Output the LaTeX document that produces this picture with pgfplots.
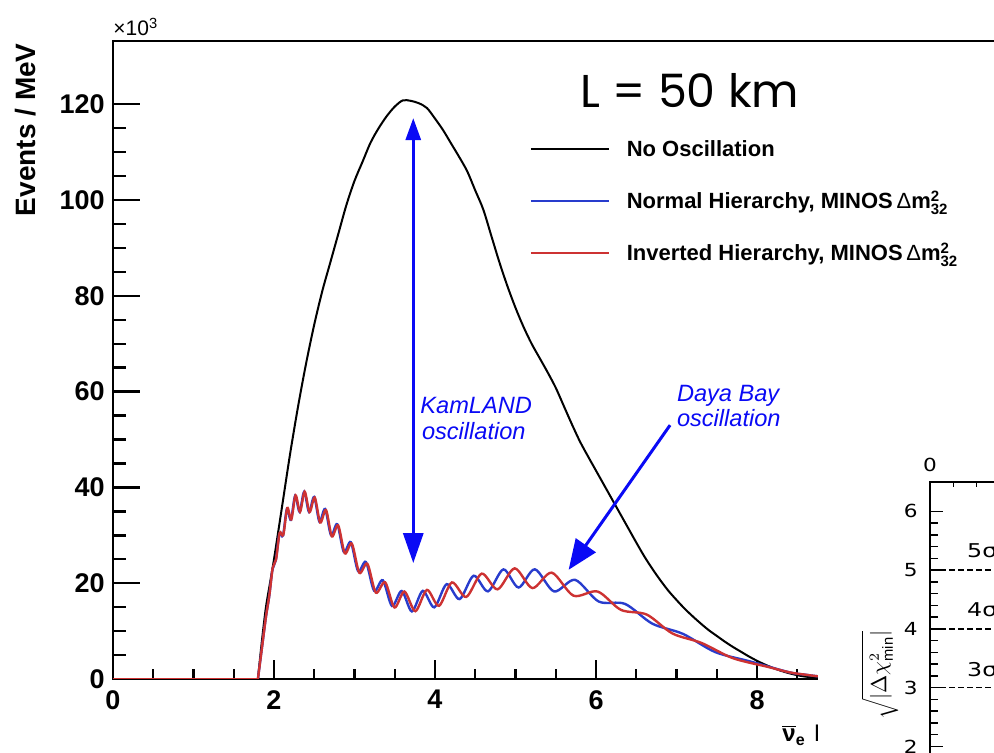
\documentclass[border=0pt]{standalone}
\usepackage{fontspec}
\setmainfont{Liberation Sans}
\newfontfamily\comicfont{Poppins}
\newfontfamily\djvfont{DejaVu Sans}
\usepackage{pgfplots}
\usepackage{pgfplotstable}
\pgfplotsset{compat=1.18}
\usetikzlibrary{arrows.meta}
\definecolor{nhblue}{RGB}{40,60,205}
\definecolor{ihred}{RGB}{205,50,50}
\definecolor{annblue}{RGB}{10,10,245}

\pgfplotstableread{
E y
1.80 0
1.85 8
1.90 15
1.95 20
2.00 25
2.10 36
2.20 47
2.30 57
2.40 66
2.50 74
2.60 81
2.70 87
2.80 93
2.90 99
3.00 104
3.10 108
3.20 112
3.30 115
3.40 117.5
3.50 119.5
3.60 120.8
3.70 120.7
3.80 120.2
3.90 119.2
4.00 117
4.10 114.6
4.20 111.8
4.30 109
4.40 106
4.50 102
4.60 98
4.70 92.5
4.80 87
4.90 82
5.00 77.5
5.10 73.5
5.20 70
5.30 67
5.40 64
5.50 60.8
5.60 57
5.70 53.2
5.80 49.6
5.90 46.5
6.00 43.5
6.10 40.5
6.20 37.5
6.30 34.5
6.40 31.5
6.50 28.5
6.60 25.6
6.70 23
6.80 20.6
6.90 18.4
7.00 16.5
7.10 14.7
7.20 13.1
7.30 11.6
7.40 10.2
7.50 9
7.60 7.8
7.70 6.7
7.80 5.7
7.90 4.7
8.00 3.8
8.10 3.0
8.20 2.3
8.30 1.7
8.40 1.2
8.50 0.8
8.60 0.5
8.80 0.2
9.20 0.05
}\noosc

\pgfplotstableread{
E y
1.80 0
1.85 6.5
1.90 13
1.940 17.2
1.981 22.9
2.023 24.84
2.067 30.3
2.112 29.95
2.160 35.49
2.210 33.22
2.263 38.28
2.318 34.91
2.375 39.1
2.435 34.89
2.499 38.0
2.565 32.83
2.635 35.5
2.709 30.0
2.786 32.31
2.868 26.5
2.954 28.56
3.045 22.51
3.142 24.42
3.244 18.41
3.352 20.62
3.466 15.24
3.587 18.38
3.713 14.11
3.849 18.4
3.991 14.96
4.145 19.8
4.306 16.68
4.480 21.56
4.658 18.3
4.850 22.88
5.038 19.1
5.240 22.9
5.479 18.28
5.740 20.7
6.035 16.16
6.360 15.68
6.700 11.55
7.080 9.42
7.480 5.63
7.920 3.64
8.40 1.4
8.60 0.9
8.80 0.5
9.20 0.1
}\normalh

\pgfplotstableread{
E y
1.80 0
1.85 6.5
1.90 13
1.944 17.7
1.984 23.2
2.026 25.0
2.070 30.5
2.116 30.1
2.165 35.7
2.215 33.3
2.268 38.35
2.323 34.9
2.381 39.1
2.442 34.85
2.506 37.9
2.574 32.67
2.646 35.28
2.719 29.78
2.797 32.07
2.880 26.24
2.967 28.26
3.060 22.18
3.160 24.04
3.265 18.03
3.380 20.2
3.497 14.93
3.620 18.26
3.756 14.16
3.900 18.6
4.049 15.27
4.210 20.16
4.388 17.13
4.580 22.0
4.777 18.72
4.990 23.1
5.210 18.98
5.450 22.2
5.720 17.4
6.020 18.26
6.310 14.43
6.630 13.45
6.950 9.5
7.310 7.53
7.700 4.35
8.130 2.55
8.40 1.4
8.60 0.9
8.80 0.5
9.20 0.1
}\invertedh

\begin{document}
\begin{tikzpicture}
\useasboundingbox (0,0) rectangle (497pt,376.5pt);
\clip (0,0) rectangle (497pt,376.5pt);
\begin{axis}[
  at={(56.5pt,37pt)}, anchor=south west,
  scale only axis, width=483pt, height=319pt,
  xmin=0, xmax=12, ymin=0, ymax=133.2,
  axis line style={line width=1.3pt},
  xtick={0,2,...,12}, ytick={0,20,...,120},
  minor x tick num=3, minor y tick num=3,
  xtick pos=bottom, ytick pos=left,
  tick align=inside,
  tick style={line width=1.2pt, black},
  xtick style={/pgfplots/major tick length=9.5pt,/pgfplots/minor tick length=5pt},
  ytick style={/pgfplots/major tick length=13.5pt,/pgfplots/minor tick length=6.5pt},
  /pgf/number format/assume math mode=true,
  tick label style={font=\bfseries\fontsize{13.5}{14}\selectfont},
  xticklabel style={inner sep=0pt, yshift=-5.5pt},
  yticklabel style={inner sep=0pt, xshift=-4pt},
  legend style={at={(0.43168,0.84326)}, anchor=north west, draw=none, fill=none,
    inner sep=0pt, outer sep=0pt, row sep=18pt, column sep=8.5pt,
    font=\bfseries\fontsize{11}{13}\selectfont,
    nodes={inner sep=0pt, text height=8pt, text depth=0pt}},
  legend cell align=left,
  legend image code/.code={\draw[#1,line width=0.9pt] (0pt,0pt) -- (39pt,0pt);},
]
\addplot[black, line width=1pt, forget plot] coordinates {(0,0) (1.8,0)};
\addplot[black, line width=1pt, smooth] table[x=E,y=y] {\noosc};
\addlegendentry{No Oscillation}
\addplot[nhblue, line width=1.2pt, forget plot] coordinates {(0,0) (1.8,0)};
\addplot[nhblue, line width=1.2pt, smooth] table[x=E,y=y] {\normalh};
\addlegendentry{Normal Hierarchy, MINOS\,{\mdseries Δ}m$^{\mbox{\fontsize{7.5}{7.5}\selectfont 2}}_{\mbox{\fontsize{7.5}{7.5}\selectfont 32}}$}
\addplot[ihred, line width=1.2pt, forget plot] coordinates {(0,0) (1.8,0)};
\addplot[ihred, line width=1.2pt, smooth] table[x=E,y=y] {\invertedh};
\addlegendentry{Inverted Hierarchy, MINOS\,{\mdseries Δ}m$^{\mbox{\fontsize{7.5}{7.5}\selectfont 2}}_{\mbox{\fontsize{7.5}{7.5}\selectfont 32}}$}
\draw[annblue, line width=1.5pt, {Triangle[length=15pt,width=10pt]}-{Triangle[length=11pt,width=7.5pt]}] (axis cs:3.73,24.2) -- (axis cs:3.73,117.1);
\draw[annblue, line width=1.5pt, -{Triangle[length=15pt,width=12pt]}] (axis cs:6.92,53.0) -- (axis cs:5.66,22.8);
\end{axis}
% texts of the main plot
\node[anchor=base west, inner sep=0pt, font=\fontsize{10.5}{12}\selectfont] at (56.5pt,358.5pt) {×10\textsuperscript{3}};
\node[rotate=90, anchor=east, inner sep=0pt, font=\bfseries\fontsize{14}{16}\selectfont] at (13pt,355pt) {Events / MeV};
\node[anchor=base west, inner sep=0pt, font=\comicfont\fontsize{23}{26}\selectfont] at (290pt,322.5pt) {L = 50 km};
\node[anchor=base west, inner sep=0pt, text=annblue, font=\itshape\fontsize{11.8}{14}\selectfont] at (210pt,169.8pt) {KamLAND};
\node[anchor=base west, inner sep=0pt, text=annblue, font=\itshape\fontsize{11.8}{14}\selectfont] at (210.8pt,156.5pt) {oscillation};
\node[anchor=base west, inner sep=0pt, text=annblue, font=\itshape\fontsize{11.8}{14}\selectfont] at (338.3pt,175.7pt) {Daya Bay};
\node[anchor=base west, inner sep=0pt, text=annblue, font=\itshape\fontsize{11.8}{14}\selectfont] at (338.3pt,163.2pt) {oscillation};
\node[anchor=base west, inner sep=0pt, font=\bfseries\fontsize{12}{14}\selectfont] at (391pt,5.5pt) {$\overline{\mbox{ν}}$\textsubscript{e}};
\node[anchor=base west, inner sep=0pt, font=\bfseries\fontsize{12}{14}\selectfont] at (407pt,5.5pt) {E};
% the inset that covers the lower right corner
\fill[white] (409pt,-2pt) rectangle (499pt,151.5pt);
\begin{axis}[
  at={(465pt,135.5pt)}, anchor=north west,
  scale only axis, width=140pt, height=161.6pt,
  xmin=0, xmax=12, ymin=1, ymax=6.5,
  axis line style={line width=0.8pt},
  xtick={0}, minor xtick={1,2,...,11},
  ytick={1,2,...,6}, minor y tick num=4,
  xtick pos=top, xticklabel pos=top, ytick pos=left,
  tick align=inside,
  tick style={line width=0.7pt, black},
  major tick length=6.5pt, minor tick length=4pt,
  xtick style={/pgfplots/minor tick length=2.5pt},
  /pgf/number format/assume math mode=true,
  tick label style={font=\djvfont\fontsize{9}{10}\selectfont, xscale=1.2},
  xticklabel style={inner sep=0pt, yshift=5pt},
  yticklabel style={inner sep=0pt, xshift=-5pt},
]
\addplot[black, line width=0.8pt, dash pattern=on 3pt off 1.5pt] coordinates {(0.43,3) (12,3)};
\addplot[black, line width=0.8pt, dash pattern=on 3pt off 1.5pt] coordinates {(0.43,4) (12,4)};
\addplot[black, line width=0.8pt, dash pattern=on 3pt off 1.5pt] coordinates {(0.43,5) (12,5)};
\node[anchor=base west, inner sep=0pt, xscale=1.25, font=\djvfont\fontsize{9.5}{11}\selectfont] at (axis cs:1.57,5.22) {5σ};
\node[anchor=base west, inner sep=0pt, xscale=1.25, font=\djvfont\fontsize{9.5}{11}\selectfont] at (axis cs:1.57,4.21) {4σ};
\node[anchor=base west, inner sep=0pt, xscale=1.25, font=\djvfont\fontsize{9.5}{11}\selectfont] at (axis cs:1.57,3.19) {3σ};
\end{axis}
\node[rotate=90, inner sep=0pt, font=\fontsize{10.5}{12}\selectfont] at (440pt,39pt) {$\sqrt{|\Delta\chi^{2}_{\mathrm{min}}|}$};
\end{tikzpicture}
\end{document}
